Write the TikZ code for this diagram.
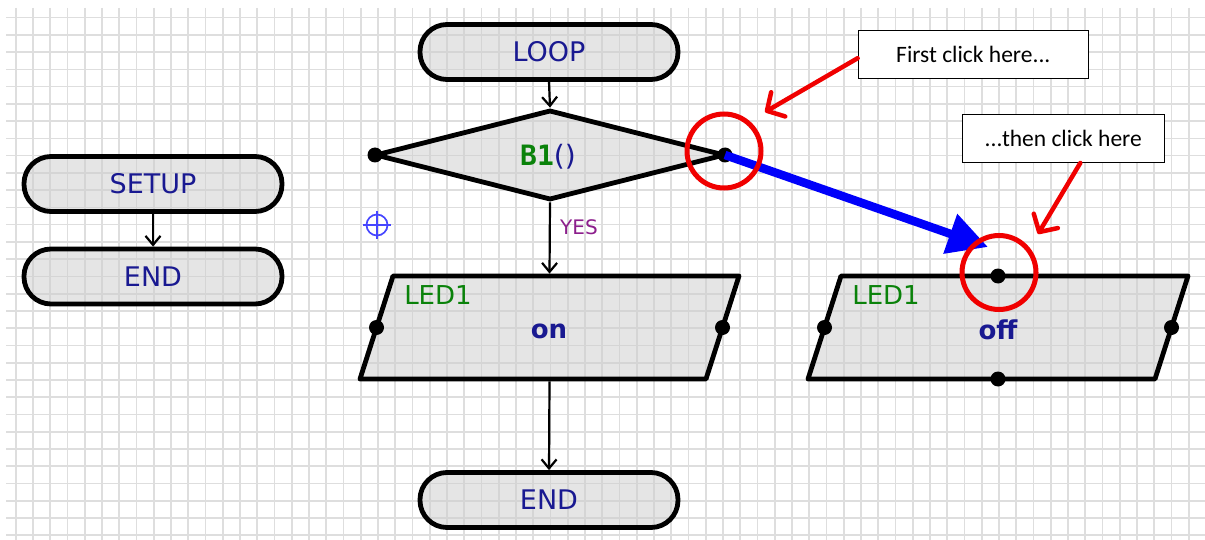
\documentclass[tikz,border=0pt]{standalone}
\usepackage{fontspec}
\usetikzlibrary{arrows.meta,shapes.geometric}
\newfontfamily\flowfont{DejaVu Sans}
\newfontfamily\codefont{DejaVu Sans Mono}
\newfontfamily\calfont{Carlito}
\definecolor{navytext}{RGB}{25,25,145}
\definecolor{greentext}{RGB}{10,130,10}
\definecolor{purpletext}{RGB}{140,30,140}
\definecolor{shapegray}{RGB}{205,205,205}
\definecolor{gridgray}{RGB}{222,222,222}
\definecolor{crossblue}{RGB}{70,70,255}
\definecolor{arrowblue}{RGB}{0,0,250}
\definecolor{callred}{RGB}{240,0,0}
\begin{document}
\begin{tikzpicture}[x=1pt,y=-1pt,
  gridline/.style={draw=gridgray, line width=1.6pt},
  term/.style={draw, line width=4.8pt, rounded corners=27pt, minimum width=258pt,
    minimum height=55pt, inner sep=0pt, fill=shapegray, fill opacity=0.5,
    text opacity=1, text=navytext, font=\flowfont\fontsize{27}{32}\selectfont},
  decision/.style={draw, diamond, line width=4.8pt, line join=round, minimum width=350pt,
    minimum height=90pt, inner sep=0pt, fill=shapegray, fill opacity=0.5},
  iobox/.style={draw, line width=4.8pt, line join=round, fill=shapegray, fill opacity=0.5},
  anchorbox/.style={rectangle, inner sep=0pt, outer sep=2.4pt, minimum width=346pt, minimum height=103pt},
  flow/.style={draw, line width=2.2pt, -{Straight Barb[length=9pt,width=15pt]}},
  dot/.style={circle, fill=black, inner sep=0pt, minimum size=15pt},
  ledlabel/.style={text=greentext, font=\flowfont\fontsize{26}{30}\selectfont, inner sep=0pt},
  valuelabel/.style={text=navytext, font=\flowfont\bfseries\fontsize{26}{30}\selectfont, inner sep=0pt},
  yeslabel/.style={text=purpletext, font=\flowfont\fontsize{20}{24}\selectfont, inner sep=0pt},
  bluearrow/.style={draw=arrowblue, line width=8.5pt, -{Triangle[length=40pt,width=40pt]}},
  redcircle/.style={circle, draw=callred, line width=5pt, minimum size=74pt, inner sep=0pt},
  callout/.style={draw, line width=1.3pt, fill=white, inner sep=0pt,
    font=\calfont\fontsize{23.5}{28}\selectfont},
  redarrow/.style={draw=callred, line width=4.5pt, line cap=round,
    -{Straight Barb[length=13pt,width=28pt,round]}},
  crossline/.style={draw=crossblue, line width=1.7pt}
]
\useasboundingbox (0,0) rectangle (1205,540);
\fill[white] (0,0) rectangle (1205,540);

% grid
\foreach \i in {0,...,68} \draw[gridline] ({15.7+17.25*\i},8) -- ({15.7+17.25*\i},540);
\foreach \j in {0,...,30} \draw[gridline] (6,{17.7+17.25*\j}) -- (1205,{17.7+17.25*\j});

% SETUP / END
\node[term] (setup) at (153,184) {\raisebox{-2pt}{SETUP}};
\node[term] (endA) at (153,276.5) {\raisebox{-1pt}{END}};
\draw[flow] (setup.south) -- (endA.north);

% LOOP
\node[term] (loop) at (549,52) {\raisebox{-1pt}{LOOP}};
\node[decision] (dec) at (550,155) {};
\node[inner sep=0pt] (b1) at (548,157) {\textcolor{greentext}{\codefont\bfseries\fontsize{28}{32}\selectfont B1}\textcolor{navytext}{\flowfont\fontsize{28}{32}\selectfont()}};
\draw[flow] (loop.south) -- (dec.north);

% LED1 on
\path[iobox] (393,276) -- (739,276) -- (706,379) -- (360,379) -- cycle;
\node[anchorbox] (on) at (549.5,327.5) {};
\node[ledlabel] (onled) at (438,295) {LED1};
\node[valuelabel] (onval) at (549,331) {on};
\draw[flow] (dec.south) -- (on.north);
\node[yeslabel] (yes) at (579,227) {YES};

% END bottom
\node[term] (endB) at (549,500) {\raisebox{-1pt}{END}};
\draw[flow] (on.south) -- (endB.north);

% LED1 off
\path[iobox] (841,276) -- (1188,276) -- (1155,379) -- (808,379) -- cycle;
\node[anchorbox] (off) at (998,327.5) {};
\node[ledlabel] (offled) at (886,295) {LED1};
\node[valuelabel] (offval) at (998,330) {off};

% dots
\node[dot] (decL) at (375,155) {};
\node[dot] (decR) at (725,155) {};
\node[dot] (onL) at (376.5,327.5) {};
\node[dot] (onR) at (722.5,327.5) {};
\node[dot] (offL) at (824.5,327.5) {};
\node[dot] (offR) at (1171.5,327.5) {};
\node[dot] (offT) at (998,276) {};
\node[dot] (offB) at (998,379) {};

% crosshair
\node[circle, draw=crossblue, line width=1.7pt, minimum size=21pt, inner sep=0pt] (cross) at (377,225) {};
\draw[crossline] ([xshift=-14pt]cross.center) -- ([xshift=14pt]cross.center);
\draw[crossline] ([yshift=-14pt]cross.center) -- ([yshift=14pt]cross.center);

% blue connection arrow
\coordinate (bluetip) at (988,247);
\draw[bluearrow] (decR.center) -- (bluetip);

% red circles
\node[redcircle] (c1) at (724,151) {};
\node[redcircle] (c2) at (999,272.5) {};

% callouts
\node[callout, minimum width=230pt, minimum height=48pt] (first) at (973.3,54.2) {First click here...};
\node[callout, minimum width=202pt, minimum height=48pt] (then) at (1063.3,138.3) {...then click here};

\coordinate (tipA) at (765,112);
\coordinate (tipB) at (1038,234);
\draw[redarrow] ([yshift=-4pt]first.west) -- (tipA);
\draw[redarrow] ([xshift=17pt]then.south) -- (tipB);
\end{tikzpicture}
\end{document}
